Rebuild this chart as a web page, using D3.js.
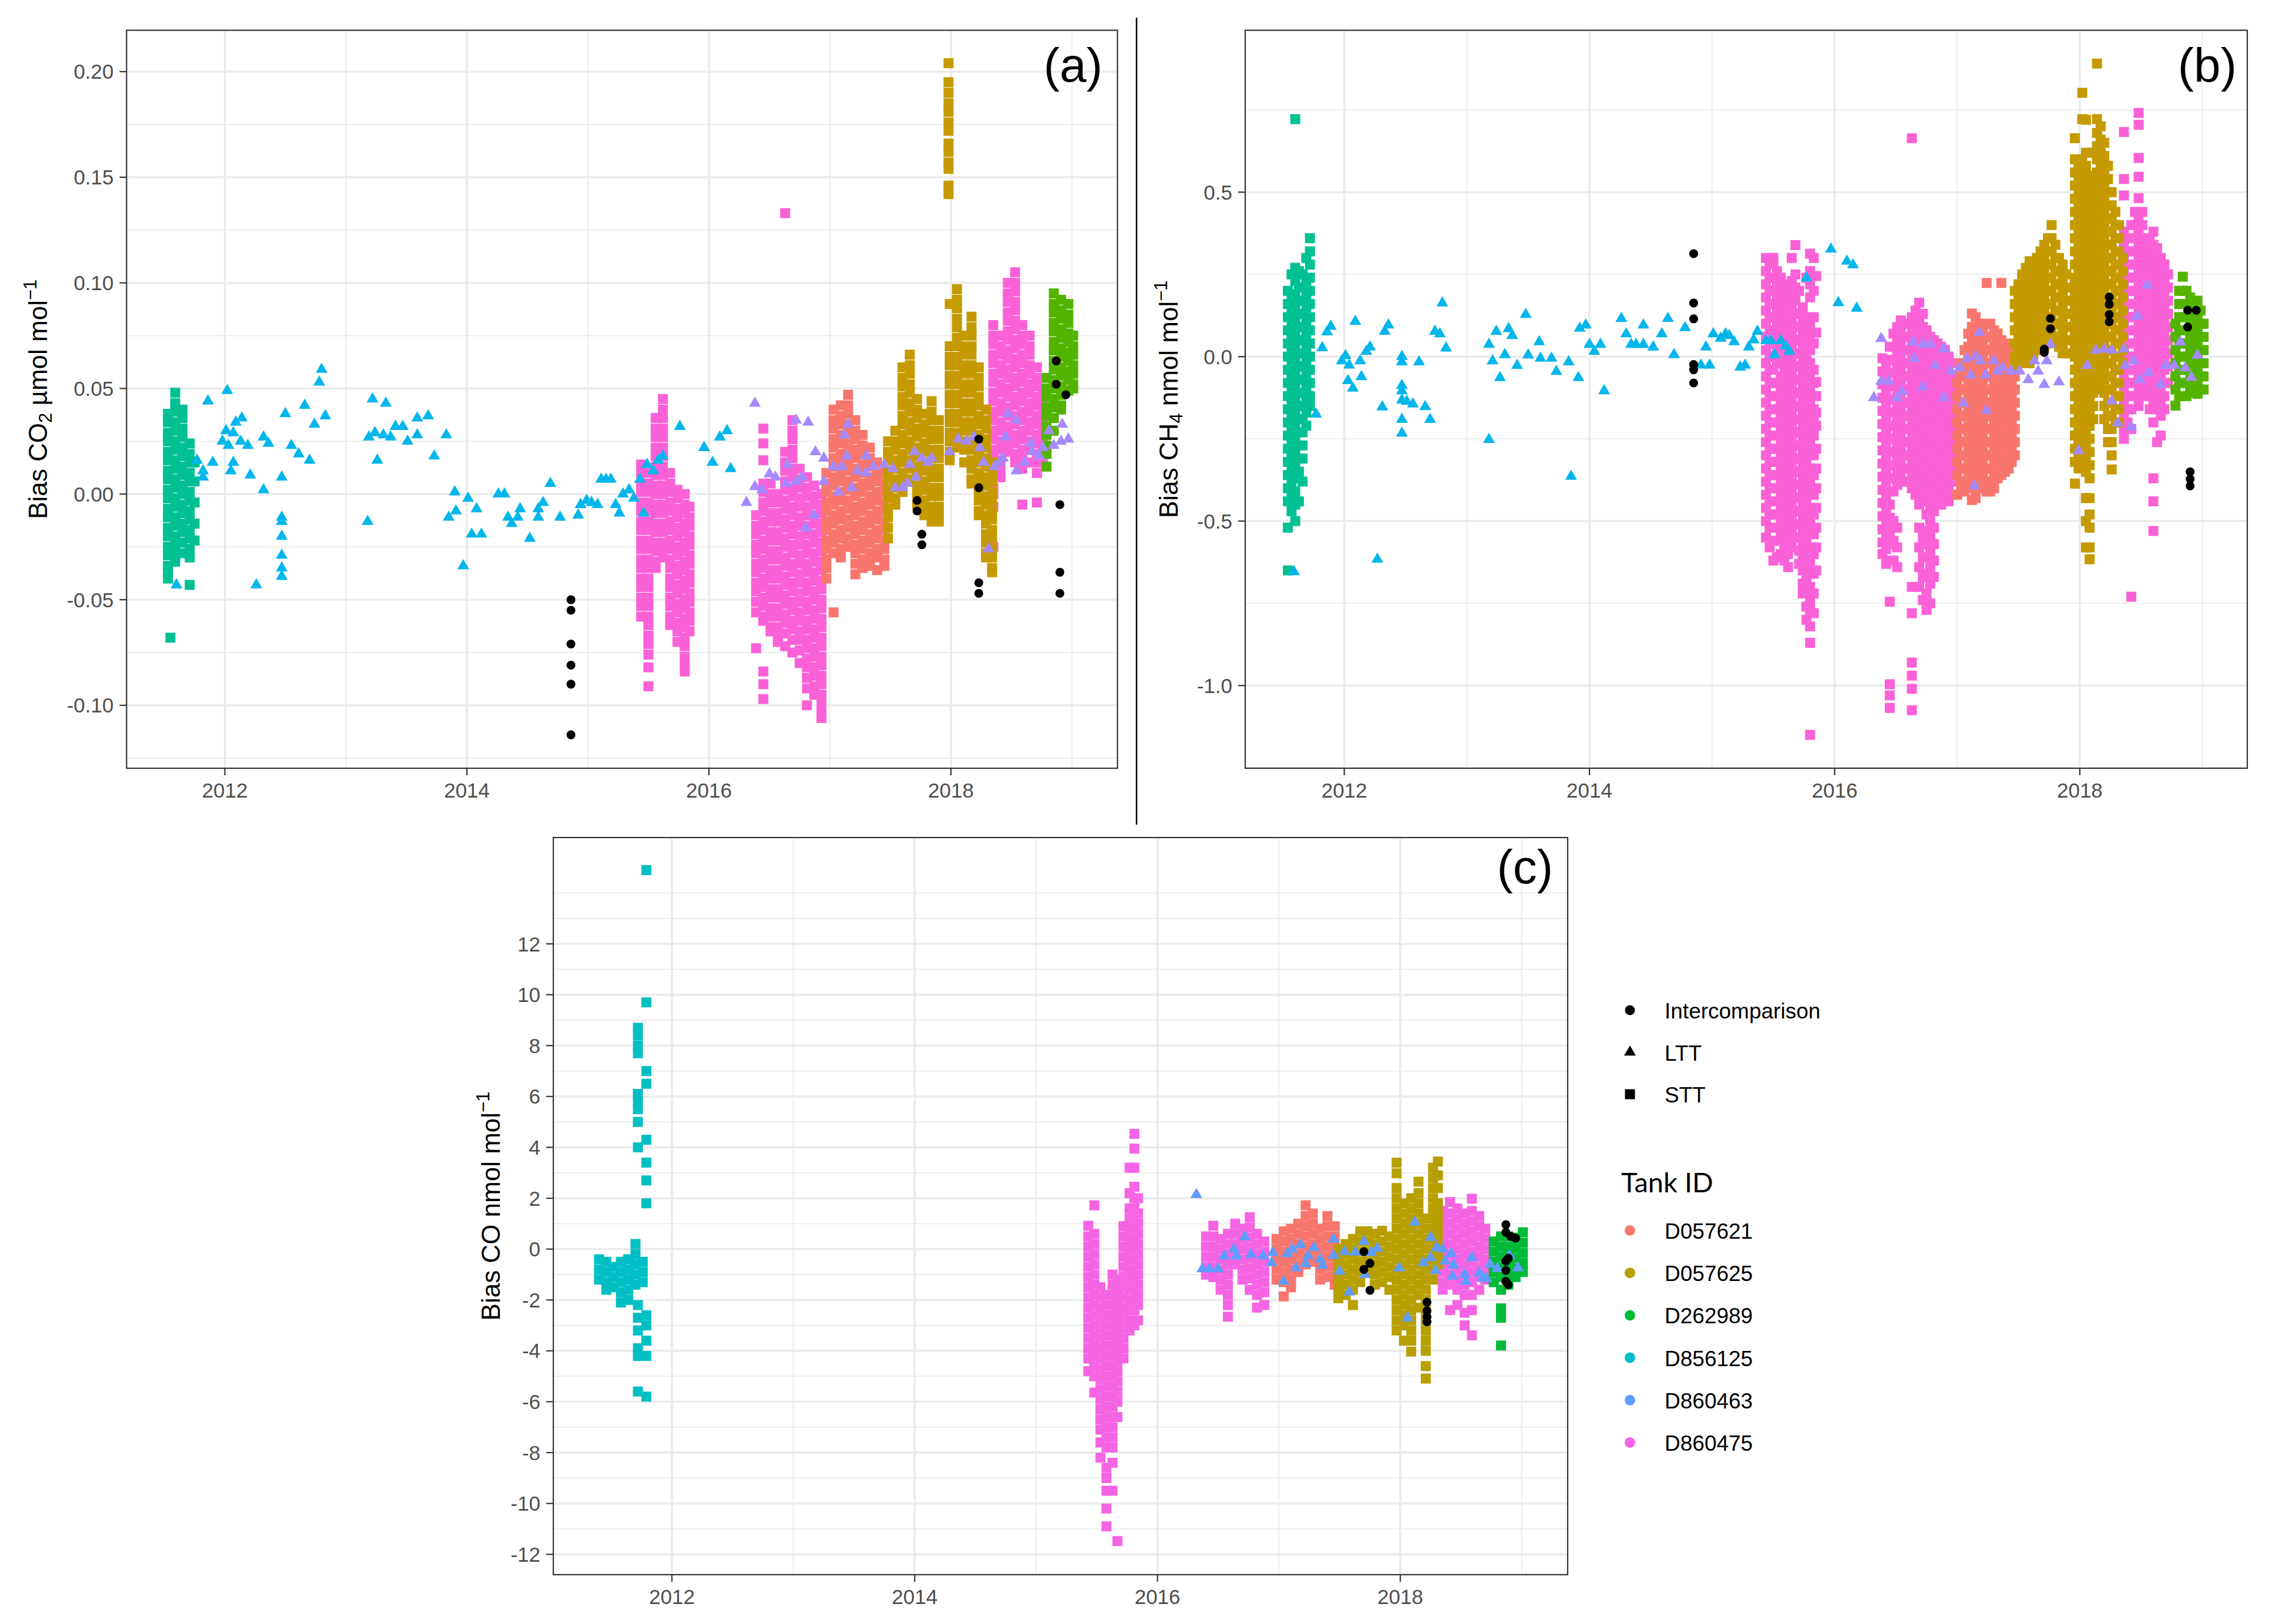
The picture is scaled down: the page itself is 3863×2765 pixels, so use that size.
<!DOCTYPE html>
<html>
<head>
<meta charset="utf-8">
<title>Bias of CO2, CH4 and CO by tank</title>
<script src="https://d3js.org/d3.v7.min.js"></script>
<style>
  body { margin: 0; background: #fff; }
  .tick-label { font-family: 'Liberation Sans', Arial, sans-serif; font-size: 35px; fill: #4d4d4d; }
  .axis-title { font-family: 'Liberation Sans', Arial, sans-serif; font-size: 44px; fill: #000; }
  .tag { font-family: 'Liberation Sans', Arial, sans-serif; font-size: 82px; fill: #000; }
  .legend-label { font-family: 'Liberation Sans', Arial, sans-serif; font-size: 37px; fill: #000; }
  .legend-title { font-family: 'Lato', 'Noto Sans', sans-serif; font-size: 47px; fill: #000; }
</style>
</head>
<body>
<svg width="3863" height="2765"></svg>
<script>
// ---------- categories / colours ----------
const tankIds = ["D057621", "D057625", "D262989", "D856125", "D860463", "D860475"];
const tankColors6 = ["#F8766D", "#B79F00", "#00BA38", "#00BFC4", "#619CFF", "#F564E3"];
// panels a and b have one more tank (early LTT), so the hue palette has 7 steps
const tankColors7 = ["#F8766D", "#C49A00", "#53B400", "#00C094", "#00B6EB", "#A58AFF", "#FB61D7"];
const typeNames = ["Intercomparison", "LTT", "STT"];

const xTicks = [2012, 2014, 2016, 2018];
const xMinor = [2013, 2015, 2017, 2019];

const co2Ticks = [-0.10, -0.05, 0, 0.05, 0.10, 0.15, 0.20];
const co2TickLabels = ["-0.10", "-0.05", "0.00", "0.05", "0.10", "0.15", "0.20"];
const co2Minor = [-0.125, -0.075, -0.025, 0.025, 0.075, 0.125, 0.175];

const ch4Ticks = [-1.0, -0.5, 0, 0.5];
const ch4TickLabels = ["-1.0", "-0.5", "0.0", "0.5"];
const ch4Minor = [-1.25, -0.75, -0.25, 0.25, 0.75];

const coTicks = [-12, -10, -8, -6, -4, -2, 0, 2, 4, 6, 8, 10, 12];
const coTickLabels = ["-12", "-10", "-8", "-6", "-4", "-2", "0", "2", "4", "6", "8", "10", "12"];
const coMinor = [-11, -9, -7, -5, -3, -1, 1, 3, 5, 7, 9, 11, 13, 14];

// ---------- (a) CO2 bias, umol/mol ----------
// STT series: [decimal year, [bias values at that date]]
const co2_D856125 = [
  [2011.53, [.038,.034,.029,.025,.020,.016,.011,.007,.002,-.002,-.007,-.011,-.016,-.020,-.025,-.029,-.034,-.037,-.040]],
  [2011.55, [-.068]],
  [2011.59, [.048,.043,.039,.034,.030,.025,.021,.016,.012,.007,.003,-.002,-.006,-.011,-.015,-.020,-.024,-.028,-.032]],
  [2011.65, [.040,.036,.031,.027,.022,.018,.013,.009,.004,0,-.005,-.009,-.014,-.018,-.023,-.028]],
  [2011.71, [.024,.019,.015,.010,.006,.001,-.003,-.008,-.012,-.017,-.021,-.026,-.030,-.043]],
  [2011.75, [.015,.006,-.004,-.014,-.022]]
];
const co2_D860475 = [
  [2015.44, [.014,.010,.005,.001,-.004,-.008,-.013,-.017,-.022,-.026,-.031,-.035,-.040,-.044,-.049,-.053,-.058]],
  [2015.50, [.010,.005,.001,-.004,-.008,-.013,-.017,-.022,-.026,-.031,-.035,-.040,-.044,-.049,-.053,-.058,-.062,-.067,-.071,-.076,-.082,-.091]],
  [2015.56, [.036,.031,.027,.022,.018,.013,.009,.004,0,-.005,-.009,-.014,-.018,-.023,-.027,-.032,-.035]],
  [2015.62, [.045,.040,.036,.031,.027,.022,.018,.013,.009,.004,0,-.005,-.009,-.014,-.018,-.023,-.027,-.030]],
  [2015.68, [.010,.005,.001,-.004,-.008,-.013,-.017,-.022,-.026,-.031,-.035,-.040,-.044,-.049,-.053,-.058,-.062]],
  [2015.74, [.002,-.002,-.007,-.011,-.016,-.020,-.025,-.029,-.034,-.038,-.043,-.047,-.052,-.056,-.061,-.065,-.070]],
  [2015.80, [0,-.005,-.009,-.014,-.018,-.023,-.027,-.032,-.036,-.041,-.045,-.050,-.054,-.059,-.063,-.068,-.072,-.077,-.081,-.084]],
  [2015.84, [-.006,-.011,-.015,-.020,-.024,-.029,-.033,-.038,-.042,-.047,-.051,-.056,-.060,-.065]],
  [2016.39, [-.010,-.015,-.019,-.024,-.028,-.033,-.037,-.042,-.046,-.051,-.056,-.073]],
  [2016.45, [.031,.024,.016,.005,.001,-.004,-.008,-.013,-.017,-.022,-.026,-.031,-.035,-.040,-.044,-.049,-.053,-.058,-.060,-.084,-.090,-.097]],
  [2016.51, [.005,0,-.004,-.009,-.013,-.018,-.022,-.027,-.031,-.036,-.040,-.045,-.049,-.054,-.058,-.063,-.065]],
  [2016.57, [0,-.004,-.009,-.013,-.018,-.022,-.027,-.031,-.036,-.040,-.045,-.049,-.054,-.058,-.063,-.067,-.070]],
  [2016.63, [.133,.020,.015,.011,.006,.002,-.003,-.007,-.012,-.016,-.021,-.025,-.030,-.034,-.039,-.043,-.048,-.052,-.057,-.061,-.066,-.072]],
  [2016.69, [.035,.030,.026,.021,.017,.012,.008,.003,-.001,-.006,-.010,-.015,-.019,-.024,-.028,-.033,-.037,-.042,-.046,-.051,-.055,-.060,-.064,-.069,-.075]],
  [2016.75, [.012,.007,.003,-.002,-.006,-.011,-.015,-.020,-.024,-.029,-.033,-.038,-.042,-.047,-.051,-.056,-.060,-.065,-.069,-.074,-.080]],
  [2016.81, [.008,.003,-.001,-.006,-.010,-.015,-.019,-.024,-.028,-.033,-.037,-.042,-.046,-.051,-.055,-.060,-.064,-.069,-.073,-.078,-.082,-.087,-.092,-.100]],
  [2016.87, [.004,-.001,-.005,-.010,-.014,-.019,-.023,-.028,-.032,-.037,-.041,-.046,-.050,-.055,-.059,-.064,-.068,-.073,-.077,-.082,-.086,-.091,-.095]],
  [2016.93, [0,-.005,-.009,-.014,-.018,-.023,-.027,-.032,-.036,-.041,-.045,-.050,-.054,-.059,-.063,-.068,-.072,-.077,-.081,-.086,-.090,-.095,-.099,-.103,-.106]],
  [2018.35, [.080,.075,.071,.066,.062,.057,.053,.048,.044,.039,.035,.030,.026,.021,.017,.012,.008,.003,0,-.006,-.025]],
  [2018.41, [.075,.070,.066,.061,.057,.052,.048,.043,.039,.034,.030,.025,.021,.016,.012,.008]],
  [2018.47, [.100,.095,.091,.086,.082,.077,.073,.068,.064,.059,.055,.050,.046,.041,.037,.032,.028,.023,.020]],
  [2018.53, [.105,.100,.096,.091,.087,.082,.078,.073,.069,.064,.060,.055,.051,.046,.042,.037,.033,.028,.024,.019,.015]],
  [2018.59, [.080,.075,.071,.066,.062,.057,.053,.048,.044,.039,.035,.030,.026,.021,.017,.012,-.005]],
  [2018.65, [.075,.070,.066,.061,.057,.052,.048,.043,.039,.034,.030,.025,.021,.015]],
  [2018.71, [.060,.055,.051,.046,.042,.037,.033,.028,.024,.019,.015,.010,-.004]],
  [2018.76, [.050,.045,.041,.036,.032,.027,.023,.018,.015]]
];
const co2_D057621 = [
  [2016.97, [.010,.005,.001,-.004,-.008,-.013,-.017,-.022,-.026,-.031,-.035,-.040]],
  [2017.03, [.040,.035,.031,.026,.022,.017,.013,.008,.004,-.001,-.005,-.010,-.014,-.019,-.023,-.028,-.056]],
  [2017.09, [.042,.037,.033,.028,.024,.019,.015,.010,.006,.001,-.003,-.008,-.012,-.017,-.021,-.026,-.030]],
  [2017.15, [.047,.042,.038,.033,.029,.024,.020,.015,.011,.006,.002,-.003,-.007,-.012,-.016,-.021,-.025]],
  [2017.21, [.035,.030,.026,.021,.017,.012,.008,.003,-.001,-.006,-.010,-.015,-.019,-.024,-.028,-.033,-.038]],
  [2017.27, [.028,.023,.019,.014,.010,.005,.001,-.004,-.008,-.013,-.017,-.022,-.026,-.031,-.035]],
  [2017.33, [.022,.017,.013,.008,.004,-.001,-.005,-.010,-.014,-.019,-.023,-.028,-.032,-.034]],
  [2017.39, [.015,.010,.006,.001,-.003,-.008,-.012,-.017,-.021,-.026,-.030,-.036]],
  [2017.45, [.010,.005,.001,-.004,-.008,-.013,-.017,-.022,-.026,-.031,-.034]]
];
const co2_D057625 = [
  [2017.48, [.025,.020,.016,.011,.007,.002,-.002,-.007,-.011,-.016,-.021]],
  [2017.54, [.030,.025,.021,.016,.012,.007,.003,-.002,-.005]],
  [2017.60, [.060,.055,.051,.046,.042,.037,.033,.028,.024,.019,.015,.010,.006,.001]],
  [2017.66, [.066,.061,.057,.052,.048,.043,.039,.034,.030,.025,.021,.016,.012,.007]],
  [2017.72, [.045,.040,.036,.031,.027,.022,.018,.013,.009,.004,0,-.005]],
  [2017.78, [.038,.033,.029,.024,.020,.015,.011,.006,.002,-.003,-.007,-.010]],
  [2017.84, [.044,.039,.035,.030,.026,.021,.017,.012,.008,.003,-.001,-.006,-.010,-.013]],
  [2017.90, [.035,.030,.026,.021,.017,.012,.008,.003,-.001,-.006,-.010,-.013]],
  [2017.98, [.204,.195,.190,.185,.181,.176,.172,.166,.162,.157,.154,.146,.142]],
  [2017.99, [.090,.070,.065,.061,.056,.052,.047,.043,.038,.034,.029,.025,.020,.016]],
  [2018.05, [.097,.092,.088,.083,.079,.074,.070,.065,.061,.056,.052,.047,.043,.038,.034,.029,.025,.022]],
  [2018.11, [.075,.070,.066,.061,.057,.052,.048,.043,.039,.034,.030,.025,.021,.015]],
  [2018.17, [.084,.079,.075,.070,.066,.061,.057,.052,.048,.043,.039,.034,.030,.025,.021,.016,.012,.007,.005]],
  [2018.23, [.060,.055,.051,.046,.042,.037,.033,.028,.024,.019,.015,.010,.006,.001,-.003,-.008,-.010]],
  [2018.29, [.040,.035,.031,.026,.022,.017,.013,.008,.004,-.001,-.005,-.010,-.014,-.019,-.023,-.028,-.030]],
  [2018.34, [.015,.010,.006,.001,-.003,-.008,-.012,-.017,-.021,-.026,-.030,-.035,-.037]]
];
const co2_D262989 = [
  [2018.79, [.055,.050,.046,.041,.037,.032,.028,.023,.019,.013]],
  [2018.85, [.095,.090,.086,.081,.077,.072,.068,.063,.059,.054,.050,.045,.041,.036,.030]],
  [2018.91, [.092,.087,.083,.078,.074,.069,.065,.060,.056,.051,.047,.042,.040]],
  [2018.97, [.090,.085,.081,.076,.072,.067,.063,.058,.054,.049]],
  [2019.01, [.075,.070,.066,.061,.057,.052,.050]]
];
// LTT series: [decimal year, bias]
const co2_ltt_early = [[2011.60,-.043],[2011.77,.016],[2011.82,.011],[2011.82,.008],[2011.86,.044],[2011.90,.015],[2011.98,.025],[2012.01,.030],[2012.02,.049],[2012.03,.023],[2012.05,.011],[2012.07,.015],[2012.07,.029],[2012.09,.034],[2012.13,.025],[2012.14,.036],[2012.19,.023],[2012.21,.009],[2012.26,-.043],[2012.32,.002],[2012.32,.027],[2012.36,.024],[2012.47,.008],[2012.47,-.011],[2012.47,-.013],[2012.47,-.020],[2012.47,-.029],[2012.47,-.035],[2012.47,-.039],[2012.50,.038],[2012.55,.023],[2012.61,.019],[2012.66,.042],[2012.70,.016],[2012.74,.033],[2012.78,.053],[2012.80,.059],[2012.83,.037],[2013.18,-.013],[2013.19,.027],[2013.22,.045],[2013.24,.029],[2013.26,.016],[2013.31,.028],[2013.33,.043],[2013.37,.027],[2013.41,.032],[2013.47,.032],[2013.51,.025],[2013.59,.036],[2013.59,.028],[2013.68,.037],[2013.73,.018],[2013.83,.028],[2013.85,-.011],[2013.90,.001],[2013.91,-.008],[2013.97,-.034],[2014.01,-.002],[2014.04,-.019],[2014.08,-.007],[2014.12,-.019],[2014.26,0],[2014.31,0],[2014.34,-.011],[2014.37,-.014],[2014.42,-.011],[2014.44,-.007],[2014.52,-.021],[2014.59,-.011],[2014.59,-.007],[2014.63,-.004],[2014.69,.005],[2014.77,-.011],[2014.92,-.010],[2014.94,-.005],[2014.99,-.003],[2015.03,-.004],[2015.08,-.005],[2015.11,.007],[2015.15,.007],[2015.19,.007],[2015.23,-.005],[2015.26,-.009],[2015.29,0],[2015.34,.002],[2015.38,-.002],[2015.43,.007],[2015.46,-.009],[2015.49,.014],[2015.54,.011],[2015.58,.016],[2015.62,.018],[2015.76,.032],[2015.96,.022],[2016.03,.015],[2016.09,.027],[2016.15,.030],[2016.18,.012]];
const co2_D860463 = [[2016.31,-.004],[2016.38,.043],[2016.38,.0035],[2016.44,.002],[2016.50,.0095],[2016.55,.008],[2016.64,.005],[2016.65,.014],[2016.72,.006],[2016.72,.035],[2016.77,.008],[2016.80,-.016],[2016.82,.034],[2016.87,-.010],[2016.88,.020],[2016.95,.017],[2016.95,.006],[2017.03,.013],[2017.07,.001],[2017.10,.013],[2017.12,.028],[2017.14,.018],[2017.15,.033],[2017.18,.003],[2017.23,.011],[2017.30,.018],[2017.30,.010],[2017.36,.013],[2017.45,.014],[2017.52,.012],[2017.54,.003],[2017.60,.003],[2017.64,.005],[2017.66,.014],[2017.70,.020],[2017.71,.008],[2017.76,.017],[2017.81,.015],[2017.84,.017],[2017.99,.020],[2018.06,.026],[2018.13,.025],[2018.19,.027],[2018.24,.022],[2018.27,.015],[2018.31,-.026],[2018.36,.013],[2018.40,.015],[2018.43,.017],[2018.45,.027],[2018.47,.038],[2018.54,.035],[2018.54,.011],[2018.61,.015],[2018.66,.024],[2018.67,.020],[2018.73,.018],[2018.76,.022],[2018.81,.030],[2018.85,.023],[2018.91,.025],[2018.92,.033],[2018.97,.026]];
const co2_intercomp = [
  [2014.86, [-.050,-.055,-.071,-.081,-.090,-.114]],
  [2017.72, [-.003,-.008]],
  [2017.76, [-.019,-.024]],
  [2018.23, [.026,.003,-.042,-.047]],
  [2018.87, [.063,.052]],
  [2018.90, [-.005,-.037,-.047]],
  [2018.95, [.047]]
];

// ---------- (b) CH4 bias, nmol/mol ----------
const ch4_D856125 = [
  [2011.54, [.20,.16,.12,.08,.04,0,-.04,-.08,-.12,-.16,-.20,-.24,-.28,-.32,-.36,-.40,-.44,-.52,-.65]],
  [2011.57, [.25,.18,.14,.10,.06,.02,-.02,-.06,-.10,-.14,-.18,-.22,-.26,-.30,-.34,-.38,-.42,-.47]],
  [2011.60, [.722,.27,.23,.19,.15,.11,.07,.03,-.01,-.05,-.09,-.13,-.17,-.21,-.25,-.29,-.33,-.37,-.41,-.45,-.50]],
  [2011.63, [.26,.21,.17,.13,.09,.05,.01,-.03,-.07,-.11,-.15,-.19,-.23,-.27,-.31,-.35,-.44]],
  [2011.66, [.25,.21,.17,.13,.09,.05,.01,-.03,-.07,-.11,-.15,-.19,-.23,-.27,-.31,-.38]],
  [2011.69, [.30,.23,.19,.15,.11,.07,.03,-.01,-.05,-.09,-.13,-.17,-.21]],
  [2011.72, [.36,.32,.28,.24,.20,.16,.12,.08,.04,0,-.04,-.08,-.12,-.15]]
];
const ch4_D860475 = [
  [2015.44, [.30,.26,.22,.18,.14,.10,.06,.02,-.02,-.06,-.10,-.14,-.18,-.22,-.26,-.30,-.34,-.38,-.42,-.46,-.50,-.55]],
  [2015.47, [.28,.24,.20,.16,.12,.08,.04,0,-.04,-.08,-.12,-.16,-.20,-.24,-.28,-.32,-.36,-.40,-.44,-.48,-.52,-.58]],
  [2015.50, [.30,.28,.24,.20,.16,.12,.08,.04,0,-.04,-.08,-.12,-.16,-.20,-.24,-.28,-.32,-.36,-.40,-.44,-.48,-.52,-.56,-.62]],
  [2015.53, [.26,.22,.18,.14,.10,.06,.02,-.02,-.08,-.12,-.16,-.20,-.24,-.28,-.32,-.36,-.40,-.44,-.48,-.52,-.56,-.61]],
  [2015.56, [.24,.20,.16,.12,.08,.04,0,-.06,-.10,-.14,-.18,-.22,-.26,-.30,-.34,-.38,-.42,-.46,-.50,-.54,-.60]],
  [2015.59, [.22,.18,.14,.10,.06,.02,-.02,-.05,-.09,-.13,-.17,-.21,-.25,-.29,-.33,-.37,-.41,-.45,-.49,-.53,-.57,-.62]],
  [2015.62, [.20,.17,.13,.09,.05,.01,-.03,-.07,-.11,-.15,-.19,-.23,-.27,-.31,-.35,-.39,-.43,-.47,-.51,-.55,-.60,-.64]],
  [2015.65, [.30,.23,.19,.15,.11,.07,.03,-.01,-.05,-.09,-.13,-.17,-.21,-.25,-.29,-.33,-.37,-.41,-.45,-.49,-.53,-.58]],
  [2015.68, [.339,.25,.21,.17,.13,.09,.05,.01,-.03,-.07,-.11,-.15,-.19,-.23,-.27,-.31,-.35,-.39,-.43,-.47,-.51,-.55]],
  [2015.71, [.20,.13,.09,.05,.01,-.03,-.07,-.11,-.15,-.19,-.23,-.27,-.31,-.35,-.39,-.43,-.47,-.51,-.55,-.59,-.63]],
  [2015.74, [.15,.11,.07,.03,-.01,-.05,-.09,-.13,-.17,-.21,-.25,-.29,-.33,-.37,-.41,-.45,-.49,-.53,-.57,-.61,-.65,-.69,-.72]],
  [2015.77, [.24,.12,.08,.04,0,-.04,-.08,-.12,-.16,-.20,-.24,-.28,-.32,-.36,-.40,-.44,-.48,-.52,-.56,-.60,-.64,-.68,-.72,-.76,-.80]],
  [2015.80, [.313,.26,.22,.18,.10,.06,.02,-.02,-.06,-.10,-.14,-.18,-.22,-.26,-.30,-.34,-.38,-.42,-.46,-.50,-.54,-.58,-.62,-.66,-.70,-.74,-.77,-.82,-.87,-1.15]],
  [2015.83, [.30,.20,.12,.04,-.04,-.08,-.12,-.16,-.20,-.24,-.30,-.36,-.42,-.48,-.54,-.60,-.66,-.72,-.78]],
  [2015.85, [.245,.073,-.077,-.12,-.17,-.21,-.28,-.34,-.40,-.46,-.52,-.58,-.65]],
  [2016.39, [-.005,-.045,-.085,-.125,-.165,-.205,-.245,-.285,-.325,-.365,-.405,-.445,-.485,-.525,-.565,-.60]],
  [2016.42, [-.025,-.065,-.105,-.145,-.185,-.225,-.265,-.305,-.345,-.385,-.425,-.465,-.505,-.545,-.585,-.63]],
  [2016.45, [.03,-.01,-.05,-.09,-.13,-.17,-.21,-.25,-.29,-.33,-.37,-.41,-.45,-.49,-.53,-.57,-.62,-.745,-.996,-1.03,-1.068]],
  [2016.48, [.07,.03,-.01,-.05,-.09,-.13,-.17,-.21,-.25,-.29,-.33,-.37,-.41,-.50,-.56,-.62]],
  [2016.51, [.09,.05,.01,-.03,-.07,-.11,-.15,-.19,-.23,-.27,-.31,-.35,-.39,-.52,-.58,-.64]],
  [2016.54, [.11,.07,.03,-.01,-.05,-.09,-.13,-.17,-.21,-.25,-.29,-.33,-.37]],
  [2016.57, [.10,.06,.02,-.02,-.06,-.10,-.14,-.18,-.22,-.26,-.30,-.34,-.38]],
  [2016.60, [.10,.06,.02,-.02,-.06,-.10,-.14,-.18,-.22,-.26,-.30,-.34,-.38]],
  [2016.63, [.664,.12,.08,.04,0,-.04,-.08,-.12,-.16,-.20,-.24,-.28,-.32,-.36,-.40,-.70,-.78,-.93,-.97,-1.01,-1.075]],
  [2016.66, [.14,.10,.06,.02,-.02,-.06,-.10,-.14,-.18,-.22,-.26,-.30,-.34,-.38,-.42]],
  [2016.69, [.164,.109,.07,.03,-.01,-.05,-.09,-.13,-.17,-.21,-.25,-.29,-.33,-.37,-.41,-.45,-.52,-.58,-.64,-.70]],
  [2016.72, [.13,.09,.05,.01,-.03,-.07,-.11,-.15,-.19,-.23,-.27,-.31,-.35,-.39,-.43,-.55,-.61,-.67,-.74]],
  [2016.75, [.08,.04,0,-.04,-.08,-.12,-.16,-.20,-.24,-.28,-.32,-.36,-.40,-.44,-.48,-.53,-.57,-.61,-.66,-.72,-.77]],
  [2016.78, [.06,.02,-.02,-.06,-.10,-.14,-.18,-.22,-.26,-.30,-.34,-.38,-.42,-.46,-.50,-.55,-.59,-.64,-.69,-.75]],
  [2016.81, [.05,.01,-.03,-.07,-.11,-.15,-.19,-.23,-.27,-.31,-.35,-.39,-.43,-.47,-.52,-.57,-.62,-.67]],
  [2016.84, [.04,0,-.04,-.08,-.12,-.16,-.20,-.24,-.28,-.32,-.36,-.40,-.44]],
  [2016.87, [.03,-.01,-.05,-.09,-.13,-.17,-.21,-.25,-.29,-.33,-.37,-.41,-.45]],
  [2016.90, [.02,-.02,-.06,-.10,-.14,-.18,-.22,-.26,-.30,-.34,-.38,-.42]],
  [2016.93, [0,-.04,-.08,-.12,-.16,-.20,-.24,-.28,-.32,-.36,-.40,-.44]],
  [2016.96, [-.02,-.06,-.10,-.14,-.18,-.22,-.26,-.30,-.34,-.38,-.42]],
  [2018.36, [.683,.54,.49,.38,.34,.30,.26,.22,.18,.14,.10,.06,.02,-.02,-.06,-.10,-.14,-.18,-.22,-.25]],
  [2018.39, [.36,.32,.28,.24,.20,.16,.12,.08,.04,0,-.04,-.08,-.12,-.16,-.20]],
  [2018.42, [.40,.36,.32,.28,.24,.20,.16,.12,.08,.04,0,-.04,-.08,-.12,-.16,-.22,-.73]],
  [2018.45, [.44,.40,.36,.32,.28,.24,.20,.16,.12,.08,.04,0,-.04,-.08,-.12]],
  [2018.48, [.741,.705,.604,.547,.482,.42,.38,.34,.30,.26,.22,.18,.14,.10,.06,.02,-.02,-.06,-.10,-.15]],
  [2018.51, [.44,.40,.36,.32,.28,.24,.20,.16,.12,.08,.04,0,-.04,-.08,-.12]],
  [2018.54, [.35,.31,.27,.23,.19,.15,.11,.07,.03,-.01,-.05,-.09,-.12]],
  [2018.57, [.36,.32,.28,.24,.20,.16,.12,.08,.04,0,-.04,-.08,-.12,-.16]],
  [2018.60, [.38,.34,.30,.26,.22,.18,.14,.10,.06,.02,-.02,-.06,-.10,-.14,-.20,-.37,-.44,-.53]],
  [2018.63, [.33,.28,.24,.20,.16,.12,.08,.04,0,-.04,-.08,-.12,-.16,-.26]],
  [2018.66, [.30,.26,.22,.18,.14,.10,.06,.02,-.02,-.06,-.10,-.14,-.18,-.24]],
  [2018.69, [.28,.24,.20,.16,.12,.08,.04,0,-.04,-.08,-.12,-.16]],
  [2018.72, [.25,.21,.17,.13,.09,.05,.01,-.03,-.08]]
];
const ch4_D057621 = [
  [2017.00, [-.08,-.12,-.16,-.20,-.24,-.28,-.32,-.36,-.42]],
  [2017.03, [-.02,-.06,-.10,-.14,-.18,-.22,-.26,-.30,-.34,-.38,-.41]],
  [2017.06, [.02,-.02,-.06,-.10,-.14,-.18,-.22,-.26,-.30,-.34,-.38,-.41]],
  [2017.09, [.07,.03,-.01,-.05,-.09,-.13,-.17,-.21,-.25,-.29,-.33,-.37,-.40]],
  [2017.12, [.131,.09,.05,.01,-.03,-.07,-.11,-.15,-.19,-.23,-.27,-.31,-.35,-.39,-.436]],
  [2017.15, [.12,.08,.04,0,-.04,-.08,-.12,-.16,-.20,-.24,-.28,-.32,-.36,-.40,-.43]],
  [2017.18, [.10,.06,.02,-.02,-.06,-.10,-.14,-.18,-.22,-.26,-.30,-.34,-.38,-.40]],
  [2017.21, [.08,.04,0,-.04,-.08,-.12,-.16,-.20,-.24,-.28,-.32,-.36,-.40]],
  [2017.24, [.224,.10,.06,.02,-.02,-.06,-.10,-.14,-.18,-.22,-.26,-.30,-.34,-.38,-.41]],
  [2017.27, [.10,.06,.02,-.02,-.06,-.10,-.14,-.18,-.22,-.26,-.30,-.34,-.38,-.41]],
  [2017.30, [.08,.04,0,-.04,-.08,-.12,-.16,-.20,-.24,-.28,-.32,-.36,-.40]],
  [2017.33, [.07,.03,-.01,-.05,-.09,-.13,-.17,-.21,-.25,-.29,-.33,-.37]],
  [2017.36, [.224,.05,.01,-.03,-.07,-.11,-.15,-.19,-.23,-.27,-.31,-.36]],
  [2017.39, [.04,0,-.04,-.08,-.12,-.16,-.20,-.24,-.28,-.32,-.35]],
  [2017.42, [.02,-.02,-.06,-.10,-.14,-.18,-.22,-.26,-.30,-.34]],
  [2017.445, [0,-.04,-.08,-.12,-.16,-.20,-.24,-.28,-.32]],
  [2017.47, [-.02,-.06,-.10,-.14,-.18,-.22,-.26,-.30]]
];
const ch4_D057625 = [
  [2017.47, [.20,.16,.12,.08,.04,0,-.03]],
  [2017.50, [.22,.18,.14,.10,.06,.02,-.02]],
  [2017.53, [.25,.21,.17,.13,.09,.05,.01,-.02]],
  [2017.56, [.27,.23,.19,.15,.11,.07,.03,-.01]],
  [2017.59, [.29,.25,.21,.17,.13,.09,.05,.01,-.02]],
  [2017.62, [.28,.24,.20,.16,.12,.08,.04,0]],
  [2017.65, [.30,.26,.22,.18,.14,.10,.06,.02]],
  [2017.68, [.32,.28,.24,.20,.16,.12,.08,.04]],
  [2017.71, [.34,.30,.26,.22,.18,.14,.10,.06,.03]],
  [2017.74, [.36,.32,.28,.24,.20,.16,.12,.08,.04]],
  [2017.77, [.40,.36,.32,.28,.24,.20,.16,.12,.08,.05]],
  [2017.80, [.34,.30,.26,.22,.18,.14,.10,.06]],
  [2017.83, [.30,.26,.22,.18,.14,.10,.06,.03]],
  [2017.86, [.28,.24,.20,.16,.12,.08,.04,.01]],
  [2017.89, [.25,.21,.17,.13,.09,.05,.01]],
  [2017.92, [.21,.17,.13,.09,.05,.01]],
  [2017.96, [.664,.60,.56,.52,.48,.44,.40,.36,.32,.28,.24,.20,.16,.12,.08,.04,0,-.04,-.08,-.12,-.16,-.20,-.24,-.28,-.32,-.386]],
  [2017.99, [.58,.54,.50,.46,.42,.38,.34,.30,.26,.22,.18,.14,.10,.06,.02,-.02,-.06,-.10,-.14,-.18,-.22,-.26,-.30,-.34]],
  [2018.02, [.802,.722,.60,.56,.52,.48,.44,.40,.36,.32,.28,.24,.20,.16,.12,.08,.04,0,-.04,-.08,-.12,-.16,-.20,-.24,-.28,-.32]],
  [2018.05, [.72,.62,.58,.54,.50,.46,.42,.38,.34,.30,.26,.22,.18,.14,.10,.06,.02,-.02,-.06,-.10,-.14,-.18,-.22,-.26,-.30,-.35,-.43,-.50,-.58]],
  [2018.08, [.55,.51,.47,.43,.39,.35,.31,.27,.23,.19,.15,.11,.07,.03,-.01,-.05,-.09,-.13,-.17,-.21,-.25,-.29,-.33,-.37,-.43,-.48,-.52,-.58,-.616]],
  [2018.11, [.62,.53,.49,.45,.41,.37,.33,.29,.25,.21,.17,.13,.09,.05,.01,-.03,-.07,-.11,-.15,-.19]],
  [2018.14, [.891,.722,.68,.64,.60,.56,.52,.48,.44,.40,.36,.32,.28,.24,.20,.16,.12,.08,.04,0,-.04,-.08]],
  [2018.17, [.70,.66,.62,.58,.54,.50,.46,.42,.38,.34,.30,.26,.22,.18,.14,.10,.06,.02,-.02,-.06,-.10]],
  [2018.20, [.65,.61,.57,.53,.49,.45,.41,.37,.33,.29,.25,.21,.17,.13,.09,.05,.01,-.03,-.07,-.11,-.15,-.19]],
  [2018.23, [.58,.54,.50,.46,.42,.38,.34,.30,.26,.22,.18,.14,.10,.06,.02,-.02,-.06,-.10,-.14,-.18,-.22,-.26]],
  [2018.26, [.50,.46,.42,.38,.34,.30,.26,.22,.18,.14,.10,.06,.02,-.02,-.06,-.10,-.14,-.18,-.22,-.26,-.30,-.343]],
  [2018.29, [.44,.40,.36,.32,.28,.24,.20,.16,.12,.08,.04,0,-.04,-.08,-.12,-.16,-.20]],
  [2018.32, [.40,.36,.32,.28,.24,.20,.16,.12,.08,.04,0,-.04,-.08,-.12,-.16,-.20]],
  [2018.35, [.30,.26,.22,.18,.14,.10,.06,.02,-.02]]
];
const ch4_D262989 = [
  [2018.78, [.10,.06,.02,-.02,-.06,-.10,-.149]],
  [2018.81, [.20,.16,.12,.08,.04,0,-.04,-.08,-.12]],
  [2018.84, [.243,.20,.16,.12,.08,.04,0,-.04,-.08,-.12]],
  [2018.87, [.20,.16,.12,.08,.04,0,-.04,-.08,-.12]],
  [2018.90, [.18,.14,.10,.06,.02,-.02,-.06,-.10]],
  [2018.93, [.16,.12,.08,.04,0,-.04,-.08,-.11]],
  [2018.96, [.17,.13,.09,.05,.01,-.03,-.07,-.113]],
  [2018.985, [.14,.10,.06,.02,-.02,-.06,-.10]],
  [2019.01, [.10,.06,.02,-.02,-.06,-.10]]
];
const ch4_ltt_early = [[2011.59,-.654],[2011.77,-.175],[2011.82,.027],[2011.86,.075],[2011.89,.092],[2011.98,-.013],[2012.01,.003],[2012.04,-.026],[2012.03,-.073],[2012.07,-.096],[2012.09,.107],[2012.13,-.013],[2012.14,-.061],[2012.18,.016],[2012.21,.029],[2012.27,-.616],[2012.31,-.153],[2012.33,.077],[2012.36,.096],[2012.47,0],[2012.47,-.016],[2012.47,-.088],[2012.47,-.104],[2012.47,-.132],[2012.47,-.191],[2012.47,-.233],[2012.51,-.136],[2012.56,-.144],[2012.61,-.016],[2012.66,-.152],[2012.70,-.191],[2012.74,.077],[2012.78,.069],[2012.80,.163],[2012.83,.026],[2013.18,-.252],[2013.18,.037],[2013.21,-.013],[2013.24,.077],[2013.27,-.064],[2013.31,.006],[2013.34,.085],[2013.37,.064],[2013.41,-.027],[2013.48,.128],[2013.50,.005],[2013.59,.045],[2013.60,-.005],[2013.69,-.005],[2013.73,-.045],[2013.83,-.016],[2013.85,-.364],[2013.91,-.064],[2013.92,.086],[2013.97,.096],[2014.00,.037],[2014.04,.016],[2014.09,.037],[2014.12,-.104],[2014.26,.116],[2014.30,.069],[2014.34,.037],[2014.38,.037],[2014.44,.096],[2014.44,.037],[2014.52,.029],[2014.59,.069],[2014.64,.116],[2014.69,.006],[2014.78,.088],[2014.91,-.026],[2014.95,.029],[2014.98,-.026],[2015.01,.069],[2015.07,.056],[2015.11,.069],[2015.14,.064],[2015.18,.045],[2015.23,-.032],[2015.27,-.026],[2015.30,.029],[2015.34,.051],[2015.37,.077],[2015.44,.048],[2015.48,.048],[2015.51,.006],[2015.56,.048],[2015.60,.032],[2015.63,.016],[2015.77,.239],[2015.97,.327],[2016.03,.164],[2016.10,.290],[2016.15,.279],[2016.18,.147]];
const ch4_D860463 = [[2016.32,-.125],[2016.38,.055],[2016.38,-.075],[2016.44,-.075],[2016.51,-.125],[2016.55,-.106],[2016.64,.044],[2016.65,-.006],[2016.72,.037],[2016.72,-.092],[2016.78,.037],[2016.82,-.027],[2016.89,.023],[2016.89,-.125],[2016.95,-.044],[2017.02,-.034],[2017.05,-.142],[2017.08,-.006],[2017.11,-.056],[2017.14,-.393],[2017.15,.001],[2017.18,.073],[2017.19,-.013],[2017.23,-.056],[2017.24,-.164],[2017.30,-.013],[2017.33,-.044],[2017.37,-.034],[2017.44,-.044],[2017.51,-.044],[2017.58,-.070],[2017.63,-.013],[2017.66,-.044],[2017.71,-.085],[2017.73,-.013],[2017.76,.037],[2017.83,-.077],[2017.99,-.286],[2018.06,-.027],[2018.13,.019],[2018.20,.023],[2018.26,.019],[2018.26,-.135],[2018.31,-.202],[2018.36,.023],[2018.37,-.027],[2018.42,-.214],[2018.44,-.013],[2018.47,.123],[2018.49,-.070],[2018.55,.217],[2018.56,-.049],[2018.66,-.085],[2018.70,-.027],[2018.77,-.027],[2018.82,.044],[2018.86,-.034],[2018.91,-.063],[2018.96,.004]];
const ch4_intercomp = [
  [2014.85, [.313,.163,.115,-.024,-.040,-.080]],
  [2017.71, [.023,.013]],
  [2017.76, [.116,.085]],
  [2018.24, [.181,.159,.128,.106]],
  [2018.88, [.141,.090]],
  [2018.90, [-.350,-.372,-.393]],
  [2018.95, [.141]]
];

// ---------- (c) CO bias, nmol/mol ----------
const co_D856125 = [
  [2011.40, [-.4,-.8,-1.2]],
  [2011.46, [-.5,-.9,-1.3,-1.6]],
  [2011.52, [-.7,-1.1,-1.5]],
  [2011.58, [-.5,-.9,-1.3,-1.7,-2.1]],
  [2011.64, [-.4,-.8,-1.2,-1.6,-2.0]],
  [2011.70, [.2,-.2,-.6,-1.0,-1.4]],
  [2011.76, [-.5,-.9,-1.3]],
  [2011.72, [8.7,8.4,8.0,7.7,6.1,5.8,5.5,5.0,4.0,-2.2,-2.7,-3.2,-3.9,-4.2,-5.6]],
  [2011.79, [14.9,9.7,7.0,6.5,4.3,3.4,2.7,1.8,-2.6,-3.0,-3.6,-4.2,-5.8]]
];
const co_D860475 = [
  [2015.43, [.92,.5,.1,-.3,-.7,-1.1,-1.5,-1.9,-2.3,-2.7,-3.1,-3.5,-3.9,-4.3,-4.8]],
  [2015.48, [1.72,.6,.2,-.2,-.6,-1.0,-1.4,-1.8,-2.2,-2.6,-3.0,-3.4,-3.8,-4.2,-4.6,-5.0,-5.64]],
  [2015.53, [-1.5,-1.9,-2.3,-2.7,-3.1,-3.5,-3.9,-4.3,-4.7,-5.1,-5.5,-5.9,-6.3,-6.7,-7.1,-7.6,-8.2]],
  [2015.58, [-1.8,-2.2,-2.6,-3.0,-3.4,-3.8,-4.2,-4.6,-5.0,-5.4,-5.8,-6.2,-6.6,-7.0,-7.4,-7.8,-8.6,-9.0,-9.5,-10.2,-10.9]],
  [2015.63, [-1.0,-1.4,-1.8,-2.2,-2.6,-3.0,-3.4,-3.8,-4.2,-4.6,-5.0,-5.4,-5.8,-6.2,-6.6,-7.0,-7.4,-7.8,-8.4,-9.5]],
  [2015.67, [-1.2,-1.6,-2.0,-2.4,-2.8,-3.2,-3.6,-4.0,-4.4,-4.8,-5.2,-5.6,-6.0,-6.6,-11.48]],
  [2015.72, [.9,.5,.1,-.3,-.7,-1.1,-1.5,-1.9,-2.3,-2.7,-3.1,-3.5,-3.9,-4.3]],
  [2015.77, [3.2,2.2,1.6,1.2,.8,.4,0,-.4,-.8,-1.2,-1.6,-2.0,-2.4,-2.8,-3.2]],
  [2015.81, [4.53,3.95,3.2,2.45,2.0,1.6,1.2,.8,.4,0,-.4,-.8,-1.2,-1.6,-2.0,-2.4,-3.0]],
  [2015.84, [2.0,1.4,1.0,.6,.2,-.2,-.6,-1.0,-1.4,-1.8,-2.2,-2.8]],
  [2016.40, [.5,.1,-.3,-.7,-1.0]],
  [2016.46, [.92,.5,.1,-.3,-.7,-1.1]],
  [2016.52, [.4,0,-.4,-.8,-1.2,-1.6]],
  [2016.58, [.6,.2,-.2,-.6,-1.0,-1.4,-1.8,-2.2,-2.66]],
  [2016.64, [1.0,.6,.2,-.2,-.6]],
  [2016.70, [.8,.4,0,-.4,-.8,-1.2]],
  [2016.76, [1.25,.85,.45,.05,-.35,-.75,-1.15,-1.6]],
  [2016.82, [.6,.2,-.2,-.6,-1.0,-1.4,-1.8,-2.3]],
  [2016.88, [.3,-.1,-.5,-.9,-1.3,-1.7,-2.2]],
  [2018.35, [1.5,1.1,.7,.3,-.1,-.5,-.9,-1.3,-1.6]],
  [2018.41, [1.85,1.4,1.0,.6,.2,-.2,-.6,-1.0,-1.4,-2.4]],
  [2018.47, [1.6,1.2,.8,.4,0,-.4,-.8,-1.2,-1.6,-2.2]],
  [2018.53, [1.4,1.0,.6,.2,-.2,-.6,-1.0,-1.4,-1.8,-2.5,-3.0]],
  [2018.59, [1.98,1.5,1.1,.7,.3,-.1,-.5,-.9,-1.3,-1.8,-2.4,-3.39]],
  [2018.65, [1.3,.9,.5,.1,-.3,-.7,-1.1,-1.6]],
  [2018.70, [.8,.4,0,-.4,-.8,-1.2]]
];
const co_D057621 = [
  [2016.98, [.4,0,-.4,-.8,-1.2]],
  [2017.04, [.7,.3,-.1,-.5,-.9,-1.3,-1.86]],
  [2017.10, [.8,.4,0,-.4,-.8,-1.2,-1.5]],
  [2017.16, [1.0,.6,.2,-.2,-.6,-.9]],
  [2017.22, [1.72,1.3,.9,.5,.1,-.3,-.6]],
  [2017.28, [1.4,1.0,.6,.2,-.2,-.5]],
  [2017.34, [.8,.4,0,-.4,-.8,-1.2]],
  [2017.40, [1.3,.9,.5,.1,-.3,-.7,-1.1]],
  [2017.46, [.9,.5,.1,-.3,-.7,-1.1,-1.4]]
];
const co_D057625 = [
  [2017.49, [0,-.4,-.8,-1.2,-1.6,-1.93]],
  [2017.55, [.2,-.2,-.6,-1.0,-1.4,-1.8]],
  [2017.61, [.4,0,-.4,-.8,-1.2,-1.6,-2.2]],
  [2017.67, [.7,.3,-.1,-.5,-.9,-1.3]],
  [2017.73, [.7,.3,-.1,-.5,-.9]],
  [2017.79, [.6,.2,-.2,-.6,-1.0,-1.4]],
  [2017.85, [.72,.3,-.1,-.5,-.9,-1.3]],
  [2017.91, [.5,.1,-.3,-.7,-1.1,-1.6]],
  [2017.97, [3.4,2.98,2.4,2.0,1.6,1.2,.8,.4,0,-.4,-.8,-1.2,-1.6,-2.0,-2.4,-2.8,-3.2]],
  [2018.03, [1.8,1.4,1.0,.6,.2,-.2,-.6,-1.0,-1.4,-1.8,-2.2,-2.6,-3.0,-3.6]],
  [2018.09, [2.0,1.6,1.2,.8,.4,0,-.4,-.8,-1.2,-1.6,-2.0,-2.4,-2.8,-3.2,-3.6,-4.03]],
  [2018.15, [2.65,2.2,1.8,1.4,1.0,.6,.2,-.2,-.6,-1.0,-1.4,-1.8,-2.3]],
  [2018.21, [1.2,.8,.4,0,-.4,-.8,-1.2,-1.6,-2.0,-2.4,-2.8,-3.2,-3.6,-4.0,-4.6,-5.09]],
  [2018.27, [3.2,2.8,2.4,2.0,1.6,1.2,.8,.4,0,-.4,-.8,-1.2]],
  [2018.31, [3.44,2.9,2.4,1.8,1.4,1.0,.6,.2,-.2,-.6]]
];
const co_D262989 = [
  [2018.77, [.3,-.1,-.5,-.9,-1.3]],
  [2018.83, [.5,.1,-.3,-.7,-1.1,-1.6,-2.33,-2.7,-3.79]],
  [2018.89, [.5,.1,-.3,-.7,-1.1,-1.4]],
  [2018.95, [.45,.05,-.35,-.75,-1.1]],
  [2019.01, [.66,.25,-.15,-.55,-.9]]
];
const co_D860463 = [[2016.32,2.14],[2016.37,-.78],[2016.43,-.78],[2016.50,-.78],[2016.55,-.27],[2016.63,0],[2016.65,-.27],[2016.72,.48],[2016.77,-.21],[2016.87,-.27],[2016.94,-.54],[2016.95,-.14],[2017.04,-1.27],[2017.07,-.18],[2017.11,0],[2017.14,-.74],[2017.18,.17],[2017.22,-.58],[2017.24,-.27],[2017.29,.06],[2017.34,-.40],[2017.36,-.64],[2017.45,.39],[2017.45,-.25],[2017.50,-.87],[2017.54,-.10],[2017.58,-1.69],[2017.63,-.12],[2017.70,.30],[2017.71,-1.0],[2017.76,-.14],[2017.81,.03],[2017.99,-.74],[2018.06,-2.7],[2018.12,1.05],[2018.19,-.54],[2018.25,.46],[2018.25,-.34],[2018.29,-.84],[2018.30,.06],[2018.35,0],[2018.37,-.47],[2018.42,-.18],[2018.43,-1.07],[2018.44,-.63],[2018.53,-1.0],[2018.54,-1.27],[2018.59,-.34],[2018.65,-.94],[2018.68,-1.13],[2018.71,-1.16],[2018.74,-.6],[2018.80,-.76],[2018.90,-.27],[2018.97,-.74]];
const co_intercomp = [
  [2017.70, [-.1,-.80]],
  [2017.75, [-.56,-1.62]],
  [2018.22, [-2.09,-2.43,-2.66,-2.86]],
  [2018.87, [.96,.66,-.47,-.84,-1.27]],
  [2018.89, [-.36,-1.4]],
  [2018.91, [.5]],
  [2018.95, [.43]]
];

// ---------- helpers ----------
const cols = c => c.flatMap(d => d[1].map(v => [d[0], v]));

const sym = {
  square: d3.symbol().type(d3.symbolSquare).size(289),
  triangle: d3.symbol().type(d3.symbolTriangle).size(175),
  circle: d3.symbol().type(d3.symbolCircle).size(180)
};

const svg = d3.select("svg");
svg.append("rect").attr("width", 3863).attr("height", 2765).attr("fill", "#fff");

function drawPanel(p) {
  let g = svg.append("g");
  let x = d3.scaleLinear().domain(p.xDomain).range([p.left, p.right]);
  let y = d3.scaleLinear().domain(p.yDomain).range([p.bottom, p.top]);

  // grid: minor first, then major
  g.selectAll(null).data(p.yMinor).join("line")
    .attr("x1", p.left).attr("x2", p.right)
    .attr("y1", d => y(d)).attr("y2", d => y(d))
    .attr("stroke", "#ebebeb").attr("stroke-width", 1.8);
  g.selectAll(null).data(xMinor.filter(d => d > p.xDomain[0] && d < p.xDomain[1])).join("line")
    .attr("y1", p.top).attr("y2", p.bottom)
    .attr("x1", d => x(d)).attr("x2", d => x(d))
    .attr("stroke", "#ebebeb").attr("stroke-width", 1.8);
  g.selectAll(null).data(p.yTicks).join("line")
    .attr("x1", p.left).attr("x2", p.right)
    .attr("y1", d => y(d)).attr("y2", d => y(d))
    .attr("stroke", "#ebebeb").attr("stroke-width", 3.6);
  g.selectAll(null).data(xTicks).join("line")
    .attr("y1", p.top).attr("y2", p.bottom)
    .attr("x1", d => x(d)).attr("x2", d => x(d))
    .attr("stroke", "#ebebeb").attr("stroke-width", 3.6);

  // points, layer by layer
  p.layers.forEach(l => {
    g.selectAll(null).data(l.points).join("path")
      .attr("d", sym[l.shape])
      .attr("transform", d => `translate(${x(d[0])},${y(d[1])})`)
      .attr("fill", l.color);
  });

  // panel border
  g.append("rect")
    .attr("x", p.left).attr("y", p.top)
    .attr("width", p.right - p.left).attr("height", p.bottom - p.top)
    .attr("fill", "none").attr("stroke", "#333333").attr("stroke-width", 2.2);

  // axes: ticks + labels
  g.selectAll(null).data(p.yTicks).join("line")
    .attr("x1", p.left - 12).attr("x2", p.left)
    .attr("y1", d => y(d)).attr("y2", d => y(d))
    .attr("stroke", "#333333").attr("stroke-width", 2.2);
  g.selectAll(null).data(p.yTicks).join("text")
    .attr("class", "tick-label")
    .attr("x", p.left - 22).attr("y", d => y(d) + 12.5)
    .attr("text-anchor", "end")
    .text((d, i) => p.yTickLabels[i]);
  g.selectAll(null).data(xTicks).join("line")
    .attr("x1", d => x(d)).attr("x2", d => x(d))
    .attr("y1", p.bottom).attr("y2", p.bottom + 12)
    .attr("stroke", "#333333").attr("stroke-width", 2.2);
  g.selectAll(null).data(xTicks).join("text")
    .attr("class", "tick-label")
    .attr("x", d => x(d)).attr("y", p.bottom + 50)
    .attr("text-anchor", "middle")
    .text(d => d);

  // y axis title with sub/superscripts
  let t = g.append("text").attr("class", "axis-title")
    .attr("text-anchor", "middle")
    .attr("transform", `translate(${p.titleX},${(p.top + p.bottom) / 2}) rotate(-90)`);
  p.title.forEach(part => {
    let s = t.append("tspan").text(part[0]);
    if (part[1] === "sub") s.attr("baseline-shift", "-8").attr("font-size", 31);
    if (part[1] === "sup") s.attr("baseline-shift", "18").attr("font-size", 31);
  });

  // panel tag
  g.append("text").attr("class", "tag")
    .attr("x", p.tagX).attr("y", p.tagY)
    .attr("text-anchor", "end")
    .text(p.tag);
}

const panels = [
  {
    tag: "(a)", tagX: 1877, tagY: 139,
    left: 215.5, right: 1902.5, top: 51.5, bottom: 1308,
    xDomain: [2011.188, 2019.376], yDomain: [-0.1298, 0.2196],
    yTicks: co2Ticks, yTickLabels: co2TickLabels, yMinor: co2Minor,
    titleX: 80,
    title: [["Bias CO"], ["2", "sub"], [" µmol mol"], ["−1", "sup"]],
    layers: [
      { shape: "square", color: tankColors7[3], points: cols(co2_D856125) },
      { shape: "square", color: tankColors7[6], points: cols(co2_D860475) },
      { shape: "square", color: tankColors7[0], points: cols(co2_D057621) },
      { shape: "square", color: tankColors7[1], points: cols(co2_D057625) },
      { shape: "square", color: tankColors7[2], points: cols(co2_D262989) },
      { shape: "triangle", color: tankColors7[4], points: co2_ltt_early },
      { shape: "triangle", color: tankColors7[5], points: co2_D860463 },
      { shape: "circle", color: "#000000", points: cols(co2_intercomp) }
    ]
  },
  {
    tag: "(b)", tagX: 3808, tagY: 139,
    left: 2120, right: 3826, top: 51.5, bottom: 1308,
    xDomain: [2011.192, 2019.366], yDomain: [-1.2514, 0.9923],
    yTicks: ch4Ticks, yTickLabels: ch4TickLabels, yMinor: ch4Minor,
    titleX: 2005,
    title: [["Bias CH"], ["4", "sub"], [" nmol mol"], ["−1", "sup"]],
    layers: [
      { shape: "square", color: tankColors7[3], points: cols(ch4_D856125) },
      { shape: "square", color: tankColors7[6], points: cols(ch4_D860475) },
      { shape: "square", color: tankColors7[0], points: cols(ch4_D057621) },
      { shape: "square", color: tankColors7[1], points: cols(ch4_D057625) },
      { shape: "square", color: tankColors7[2], points: cols(ch4_D262989) },
      { shape: "triangle", color: tankColors7[4], points: ch4_ltt_early },
      { shape: "triangle", color: tankColors7[5], points: ch4_D860463 },
      { shape: "circle", color: "#000000", points: cols(ch4_intercomp) }
    ]
  },
  {
    tag: "(c)", tagX: 2644, tagY: 1504,
    left: 942, right: 2669, top: 1426, bottom: 2681,
    xDomain: [2011.023, 2019.379], yDomain: [-12.80, 16.18],
    yTicks: coTicks, yTickLabels: coTickLabels, yMinor: coMinor,
    titleX: 851,
    title: [["Bias CO nmol mol"], ["−1", "sup"]],
    layers: [
      { shape: "square", color: tankColors6[3], points: cols(co_D856125) },
      { shape: "square", color: tankColors6[5], points: cols(co_D860475) },
      { shape: "square", color: tankColors6[0], points: cols(co_D057621) },
      { shape: "square", color: tankColors6[1], points: cols(co_D057625) },
      { shape: "square", color: tankColors6[2], points: cols(co_D262989) },
      { shape: "triangle", color: tankColors6[4], points: co_D860463 },
      { shape: "circle", color: "#000000", points: cols(co_intercomp) }
    ]
  }
];

panels.forEach(drawPanel);

// separator between (a) and (b)
svg.append("line")
  .attr("x1", 1935).attr("x2", 1935).attr("y1", 30).attr("y2", 1404)
  .attr("stroke", "#000").attr("stroke-width", 2.5);

// ---------- legend (next to panel c) ----------
let lg = svg.append("g");
let shapeRow = d3.scaleLinear().domain([0, 2]).range([1720, 1863]);
lg.selectAll(null).data(typeNames).join("path")
  .attr("d", (d, i) => d3.symbol().type([d3.symbolCircle, d3.symbolTriangle, d3.symbolSquare][i]).size([227, 175, 290][i])())
  .attr("transform", (d, i) => `translate(2775,${shapeRow(i)})`)
  .attr("fill", "#000");
lg.selectAll(null).data(typeNames).join("text")
  .attr("class", "legend-label")
  .attr("x", 2834).attr("y", (d, i) => shapeRow(i) + 14)
  .text(d => d);

lg.append("text").attr("class", "legend-title")
  .attr("x", 2760).attr("y", 2030)
  .text("Tank ID");
let tankRow = d3.scaleLinear().domain([0, tankIds.length - 1]).range([2095, 2456]);
lg.selectAll(null).data(tankIds).join("circle")
  .attr("cx", 2775).attr("cy", (d, i) => tankRow(i))
  .attr("r", 9)
  .attr("fill", (d, i) => tankColors6[i]);
lg.selectAll(null).data(tankIds).join("text")
  .attr("class", "legend-label")
  .attr("x", 2834).attr("y", (d, i) => tankRow(i) + 14)
  .text(d => d);
</script>
</body>
</html>
